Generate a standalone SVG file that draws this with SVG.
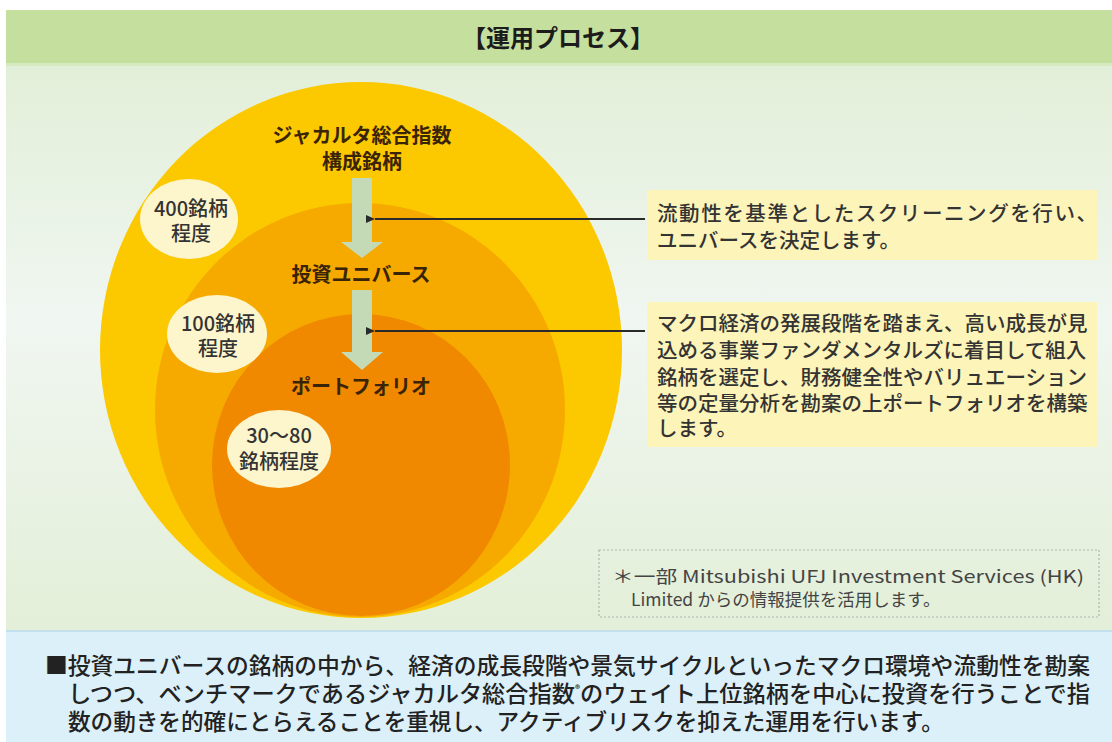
<svg xmlns="http://www.w3.org/2000/svg" width="1112" height="742" viewBox="0 0 1112 742">
<defs>
<linearGradient id="bg" x1="0" y1="0" x2="0" y2="1">
<stop offset="0" stop-color="#e2efd8"/>
<stop offset="0.45" stop-color="#f0f6f1"/>
<stop offset="1" stop-color="#e3efd8"/>
</linearGradient>
<marker id="ah" markerWidth="10" markerHeight="10" refX="1" refY="5" orient="auto" markerUnits="userSpaceOnUse">
<path d="M10,1 L1,5 L10,9 Z" fill="#2a2a2a"/>
</marker>
<style>
.jp{font-family:"Noto Sans CJK JP","Noto Sans",sans-serif}
.title{font-size:24px;font-weight:700;fill:#1c1c1c;text-anchor:middle}
.lbl{font-size:20px;font-weight:700;fill:#3a2408;text-anchor:middle}
.cnt{font-size:20px;font-weight:500;fill:#333;text-anchor:middle}
.pill{fill:#fdf5cc}
.box{fill:#fdf4b9}
.bt{font-size:20.5px;font-weight:500;fill:#333}
.note{font-size:17.5px;fill:#444}
.foot{font-size:22.6px;font-weight:500;fill:#222}
.garrow{fill:#c4dab6}
.lead{stroke:#2a2a2a;stroke-width:2;fill:none}
</style>
</defs>
<rect x="0" y="0" width="1112" height="742" fill="#ffffff"/>
<g id="header">
<rect x="6" y="10" width="1106" height="53" fill="#c4df9e"/>
<rect x="6" y="63" width="1106" height="3" fill="#d6eabf"/>
<text class="jp title" x="558" y="47">【運用プロセス】</text>
</g>
<rect id="panel" x="6" y="66" width="1106" height="564" fill="url(#bg)"/>
<g id="circles">
<ellipse id="c-index" cx="361" cy="350" rx="261" ry="268" fill="#fcc800"/>
<ellipse id="c-universe" cx="360" cy="410" rx="205" ry="207" fill="#f6aa00"/>
<ellipse id="c-portfolio" cx="361" cy="465" rx="149" ry="151" fill="#f08800"/>
</g>
<g id="connectors">
<path class="garrow" d="M352,178 H372 V242 H383 L362,258 L341,242 H352 Z"/>
<path class="garrow" d="M352,290 H372 V352 H383 L362,370 L341,352 H352 Z"/>
<line class="lead" x1="645" y1="219" x2="375" y2="219" marker-end="url(#ah)"/>
<line class="lead" x1="645" y1="331" x2="375" y2="331" marker-end="url(#ah)"/>
</g>
<g id="node-index">
<text class="jp lbl" x="362" y="143">ジャカルタ総合指数</text>
<text class="jp lbl" x="362" y="169">構成銘柄</text>
</g>
<g id="node-universe">
<text class="jp lbl" x="361" y="282">投資ユニバース</text>
</g>
<g id="node-portfolio">
<text class="jp lbl" x="361" y="394">ポートフォリオ</text>
</g>
<g id="count-400">
<ellipse class="pill" cx="189" cy="219" rx="49" ry="40"/>
<text class="jp cnt" x="191" y="216">400銘柄</text>
<text class="jp cnt" x="191" y="241">程度</text>
</g>
<g id="count-100">
<ellipse class="pill" cx="217" cy="334" rx="50" ry="39"/>
<text class="jp cnt" x="218" y="331">100銘柄</text>
<text class="jp cnt" x="218" y="356">程度</text>
</g>
<g id="count-30-80">
<ellipse class="pill" cx="279" cy="449" rx="52" ry="39"/>
<text class="jp cnt" x="279" y="443">30～80</text>
<text class="jp cnt" x="279" y="469">銘柄程度</text>
</g>
<g id="note-screening">
<rect class="box" x="647" y="190" width="450" height="70"/>
<text class="jp bt" x="657" y="221" textLength="440" lengthAdjust="spacing">流動性を基準としたスクリーニングを行い、</text>
<text class="jp bt" x="657" y="248">ユニバースを決定します。</text>
</g>
<g id="note-selection">
<rect class="box" x="647" y="302" width="450" height="145"/>
<text class="jp bt" x="657" y="331">マクロ経済の発展段階を踏まえ、高い成長が見</text>
<text class="jp bt" x="657" y="358">込める事業ファンダメンタルズに着目して組入</text>
<text class="jp bt" x="657" y="385">銘柄を選定し、財務健全性やバリュエーション</text>
<text class="jp bt" x="657" y="411">等の定量分析を勘案の上ポートフォリオを構築</text>
<text class="jp bt" x="657" y="436">します。</text>
</g>
<g id="note-source">
<rect x="599" y="550" width="500" height="67" fill="none" stroke="#b5b5b5" stroke-width="1.2" stroke-dasharray="2 2"/>
<text class="jp note" x="612" y="583" textLength="472" lengthAdjust="spacingAndGlyphs">＊一部 Mitsubishi UFJ Investment Services (HK)</text>
<text class="jp note" x="631" y="606">Limited からの情報提供を活用します。</text>
</g>
<g id="footer">
<rect x="6" y="630" width="1106" height="112" fill="#dcf0f9"/>
<rect x="6" y="630" width="1106" height="2" fill="#c3e1ec"/>
<text class="jp foot" x="45" y="674" textLength="1045" lengthAdjust="spacingAndGlyphs">■投資ユニバースの銘柄の中から、経済の成長段階や景気サイクルといったマクロ環境や流動性を勘案</text>
<text class="jp foot" x="68" y="702" textLength="1022" lengthAdjust="spacingAndGlyphs">しつつ、ベンチマークであるジャカルタ総合指数<tspan font-size="10" dy="-9">®</tspan><tspan dy="9">のウェイト上位銘柄を中心に投資を行うことで指</tspan></text>
<text class="jp foot" x="68" y="730">数の動きを的確にとらえることを重視し、アクティブリスクを抑えた運用を行います。</text>
</g>
</svg>
